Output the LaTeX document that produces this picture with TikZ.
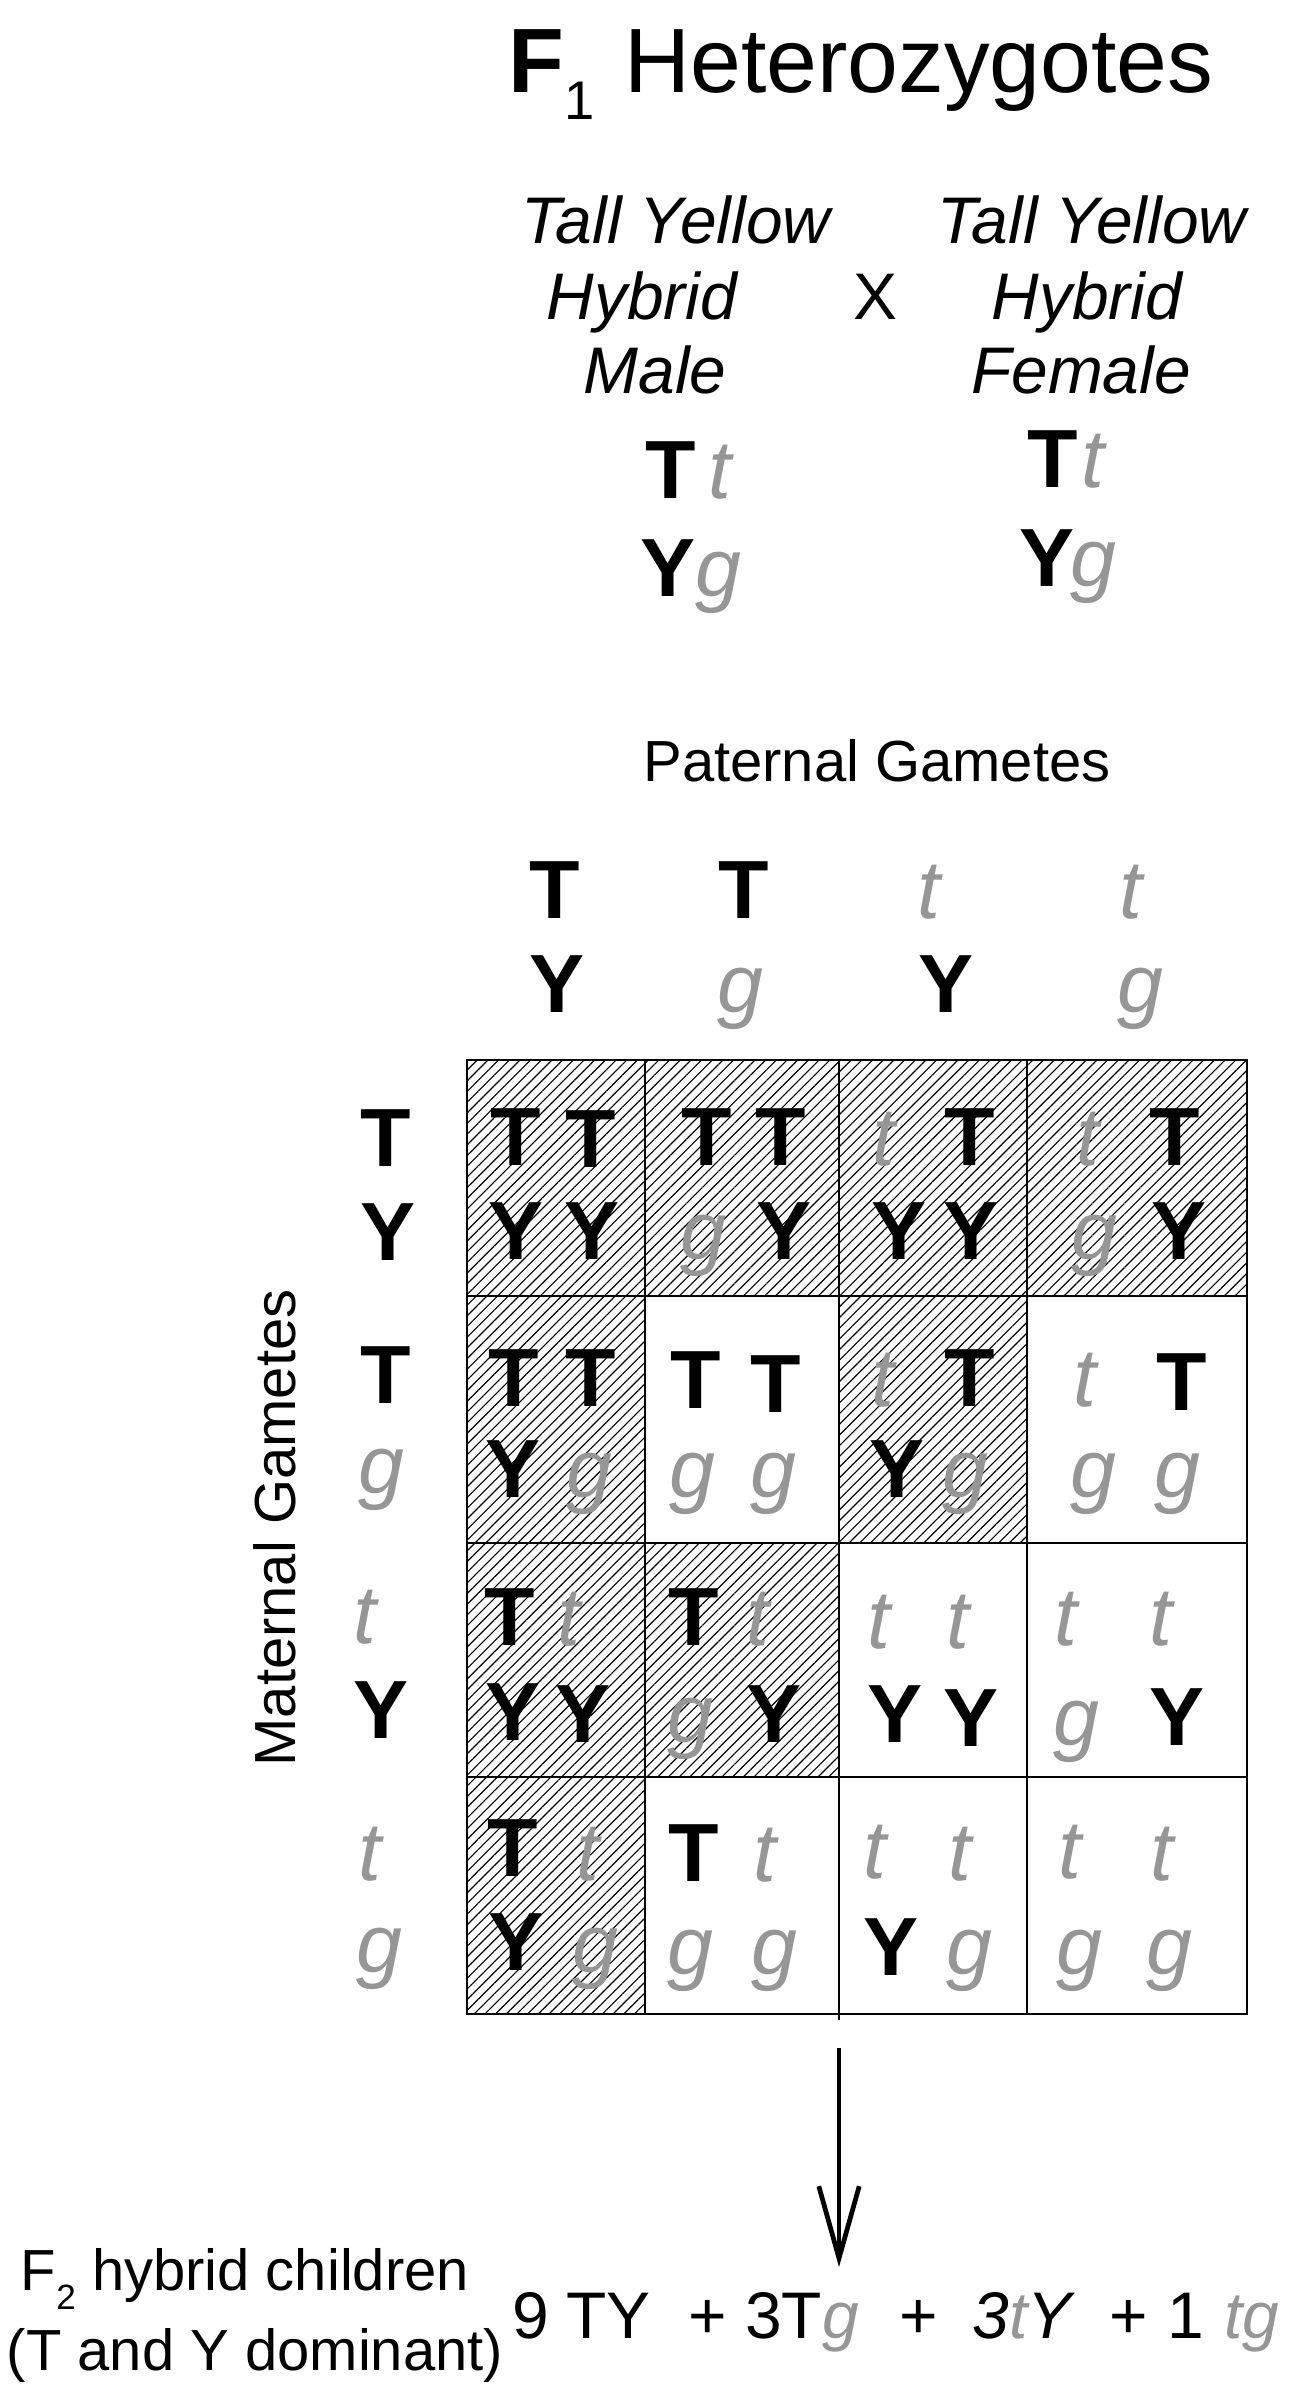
\documentclass[tikz,border=0pt]{standalone}
\usepackage{fontspec}
\setmainfont{Liberation Sans}
\usetikzlibrary{patterns.meta,arrows.meta}
\definecolor{lgray}{RGB}{150,150,150}
\begin{document}
\begin{tikzpicture}[x=0.02cm,y=-0.02cm,
  U/.style={anchor=base, inner sep=0pt, font=\fontsize{47}{47}\selectfont\bfseries},
  L/.style={anchor=base, inner sep=0pt, font=\fontsize{47}{47}\selectfont\itshape, text=lgray},
  lab/.style={anchor=base, inner sep=0pt, font=\fontsize{37.5}{37.5}\selectfont\itshape},
  heading/.style={anchor=base, inner sep=0pt, font=\fontsize{33}{33}\selectfont},
  eqs/.style={anchor=base west, inner sep=0pt, font=\fontsize{37.5}{37.5}\selectfont},
  hatch/.style={pattern={Lines[angle=45,distance=4.3pt,line width=0.65pt]}},
  gridline/.style={line width=1.3pt},
  outerline/.style={line width=1.5pt}]
\useasboundingbox (0,0) rectangle (1296,2392);

% ---- title and parents
\node[anchor=base west, inner sep=0pt, font=\fontsize{52}{52}\selectfont] (title) at (508,93)
  {\textbf{F}\raisebox{-15pt}{\fontsize{31}{31}\selectfont 1}\hspace{17pt}Heterozygotes};
\node[lab] (m1) at (676,244) {Tall Yellow};
\node[lab] (m2) at (642,320) {Hybrid};
\node[lab] (m3) at (655,393.5) {Male};
\node[lab] (f1) at (1092,244) {Tall Yellow};
\node[lab] (f2) at (1087,320) {Hybrid};
\node[lab] (f3) at (1081,393.5) {Female};
\node[anchor=base, inner sep=0pt, font=\fontsize{37.5}{37.5}\selectfont] (cross) at (875,320) {X};

\node[U] (mT) at (671,499) {T};  \node[L] (mt) at (720,499) {t};
\node[U] (mY) at (668,596) {Y};  \node[L] (mg) at (718,596) {g};
\node[U] (fT) at (1053,487) {T}; \node[L] (ft) at (1093,487) {t};
\node[U] (fY) at (1047,586) {Y}; \node[L] (fg) at (1093,586) {g};

% ---- gamete headings
\node[heading] (pat) at (877,781.5) {Paternal Gametes};
\node[heading, rotate=90] (mat) at (295,1528) {Maternal Gametes};

\node[U] (p1a) at (555,918) {T};  \node[U] (p1b) at (557,1012) {Y};
\node[U] (p2a) at (744,918) {T};  \node[L] (p2b) at (740,1012) {g};
\node[L] (p3a) at (929,918) {t};  \node[U] (p3b) at (946,1012) {Y};
\node[L] (p4a) at (1131,918) {t}; \node[L] (p4b) at (1140,1012) {g};

\node[U] (q1a) at (386,1166) {T}; \node[U] (q1b) at (388,1260) {Y};
\node[U] (q2a) at (386,1403) {T}; \node[L] (q2b) at (381,1493) {g};
\node[L] (q3a) at (365,1643) {t}; \node[U] (q3b) at (381,1738) {Y};
\node[L] (q4a) at (370,1880) {t}; \node[L] (q4b) at (379,1972) {g};

% ---- Punnett square
\foreach \xa/\xb/\ya/\yb in {467/645/1060/1296, 645/839/1060/1296, 839/1027/1060/1296,
    1027/1247/1060/1296, 467/645/1296/1543, 839/1027/1296/1543, 467/645/1543/1777,
    645/839/1543/1777, 467/645/1777/2014}
  \fill[hatch] (\xa,\ya) rectangle (\xb,\yb);
\foreach \x in {645,1027} \draw[gridline] (\x,1060) -- (\x,2014);
\draw[gridline] (839,1060) -- (839,2020);
\foreach \y in {1296,1543,1777} \draw[gridline] (467,\y) -- (1247,\y);
\draw[outerline] (467,1060) rectangle (1247,2014);

% row 1
\node[U] (r1c1a) at (516,1165) {T}; \node[U] (r1c1b) at (591,1167) {T};
\node[U] (r1c1c) at (516,1259) {Y}; \node[U] (r1c1d) at (592,1259) {Y};
\node[U] (r1c2a) at (707,1165) {T}; \node[U] (r1c2b) at (781,1165) {T};
\node[L] (r1c2c) at (703,1259) {g}; \node[U] (r1c2d) at (784,1259) {Y};
\node[L] (r1c3a) at (884,1165) {t}; \node[U] (r1c3b) at (970,1165) {T};
\node[U] (r1c3c) at (899,1259) {Y}; \node[U] (r1c3d) at (971,1259) {Y};
\node[L] (r1c4a) at (1088,1165) {t}; \node[U] (r1c4b) at (1175,1165) {T};
\node[L] (r1c4c) at (1094,1259) {g}; \node[U] (r1c4d) at (1179,1259) {Y};
% row 2
\node[U] (r2c1a) at (514,1406) {T}; \node[U] (r2c1b) at (591,1406) {T};
\node[U] (r2c1c) at (513,1497) {Y}; \node[L] (r2c1d) at (589,1497) {g};
\node[U] (r2c2a) at (696,1408) {T}; \node[U] (r2c2b) at (776,1412) {T};
\node[L] (r2c2c) at (692,1497) {g}; \node[L] (r2c2d) at (773,1497) {g};
\node[L] (r2c3a) at (883,1406) {t}; \node[U] (r2c3b) at (970,1406) {T};
\node[U] (r2c3c) at (897,1497) {Y}; \node[L] (r2c3d) at (965,1497) {g};
\node[L] (r2c4a) at (1085,1406) {t}; \node[U] (r2c4b) at (1182,1410) {T};
\node[L] (r2c4c) at (1093,1497) {g}; \node[L] (r2c4d) at (1177,1497) {g};
% row 3
\node[U] (r3c1a) at (510,1645) {T}; \node[L] (r3c1b) at (569,1645) {t};
\node[U] (r3c1c) at (513,1740) {Y}; \node[U] (r3c1d) at (583,1742) {Y};
\node[U] (r3c2a) at (694,1645) {T}; \node[L] (r3c2b) at (758,1645) {t};
\node[L] (r3c2c) at (690,1742) {g}; \node[U] (r3c2d) at (774,1742) {Y};
\node[L] (r3c3a) at (879,1648) {t}; \node[L] (r3c3b) at (958,1648) {t};
\node[U] (r3c3c) at (895,1742) {Y}; \node[U] (r3c3d) at (971,1746) {Y};
\node[L] (r3c4a) at (1066,1645) {t}; \node[L] (r3c4b) at (1161,1645) {t};
\node[L] (r3c4c) at (1076,1745) {g}; \node[U] (r3c4d) at (1177,1745) {Y};
% row 4
\node[U] (r4c1a) at (513,1876) {T}; \node[L] (r4c1b) at (588,1880) {t};
\node[U] (r4c1c) at (516,1970) {Y}; \node[L] (r4c1d) at (595,1972) {g};
\node[U] (r4c2a) at (694,1881) {T}; \node[L] (r4c2b) at (765,1881) {t};
\node[L] (r4c2c) at (690,1974) {g}; \node[L] (r4c2d) at (774,1974) {g};
\node[L] (r4c3a) at (875,1878) {t}; \node[L] (r4c3b) at (960,1880) {t};
\node[U] (r4c3c) at (891,1975) {Y}; \node[L] (r4c3d) at (969,1974) {g};
\node[L] (r4c4a) at (1070,1878) {t}; \node[L] (r4c4b) at (1162,1880) {t};
\node[L] (r4c4c) at (1079,1974) {g}; \node[L] (r4c4d) at (1169,1974) {g};

% ---- arrow and result
\coordinate (atop) at (839,2048);
\coordinate (atip) at (839,2267);
\draw[line width=2.7pt, -{Straight Barb[length=41pt,width=23pt]}] (atop) -- (atip);

\node[heading] (f2a) at (245,2290)
  {F\raisebox{-11pt}{\fontsize{20}{20}\selectfont 2} hybrid children};
\node[heading] (f2b) at (255,2370) {(T and Y dominant)};

\node[eqs] (e1) at (512,2338) {9};
\node[eqs] (e2) at (566,2338) {TY};
\node[eqs] (e3) at (688,2338) {+};
\node[eqs] (e4) at (745,2338) {3T\textit{\textcolor{lgray}{g}}};
\node[eqs] (e5) at (899,2338) {+};
\node[eqs] (e6) at (972,2338) {\textit{3\textcolor{lgray}{t}Y}};
\node[eqs] (e7) at (1109,2338) {+};
\node[eqs] (e8) at (1167,2338) {1};
\node[eqs] (e9) at (1224,2338) {\textit{\textcolor{lgray}{tg}}};
\end{tikzpicture}
\end{document}
